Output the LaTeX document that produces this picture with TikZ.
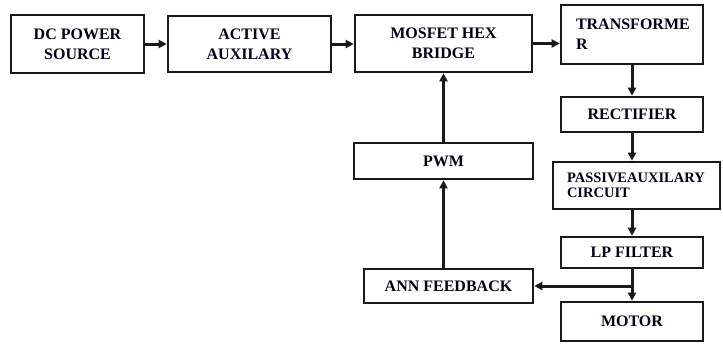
\documentclass[tikz,border=0pt]{standalone}
\usepackage{fontspec}
\setmainfont{Liberation Serif}
\usetikzlibrary{arrows.meta}
\begin{document}
\begin{tikzpicture}[x=1pt,y=-1pt,
  box/.style={draw=black!90, line width=2.6pt, rectangle, inner sep=0pt, align=center,
    font=\fontsize{16}{20}\selectfont\bfseries, text=black!90!blue},
  arr/.style={line width=3pt, draw=black!90, -{Triangle[length=8pt,width=8pt]}}]
\useasboundingbox (0,0) rectangle (723,343);
\node[box, minimum width=133pt, minimum height=58pt] (dc) at (77.5,44) {DC POWER\\ SOURCE};
\node[box, minimum width=163pt, minimum height=56pt] (act) at (249.5,44) {ACTIVE\\AUXILARY};
\node[box, minimum width=177pt, minimum height=57pt] (mos) at (443.5,43.5) {MOSFET HEX\\BRIDGE};
\node[box, minimum width=142pt, minimum height=59pt, text width=112pt, xshift=0pt, align=left] (tr) at (632,34.5) {TRANSFORME\\R};
\node[box, minimum width=142pt, minimum height=35pt] (rec) at (632,114.5) {RECTIFIER};
\node[box, minimum width=167pt, minimum height=47pt, text width=139pt, align=left,
  font=\fontsize{14.5}{15.5}\selectfont\bfseries] (pas) at (636.5,185.5) {PASSIVEAUXILARY\\CIRCUIT};
\node[box, minimum width=142pt, minimum height=31pt] (lp) at (632,252.5) {LP FILTER};
\node[box, minimum width=142pt, minimum height=39pt] (mot) at (632,321.5) {MOTOR};
\node[box, minimum width=179pt, minimum height=36pt] (pwm) at (443.5,161) {PWM};
\node[box, minimum width=169pt, minimum height=34pt] (ann) at (448.5,286) {ANN FEEDBACK};
\coordinate (j) at (lp.south |- ann.east);
\draw[arr] (dc.east) -- (act.west);
\draw[arr] (act.east) -- (act.east -| mos.west);
\draw[arr] (mos.east) -- (mos.east -| tr.west);
\draw[arr] (tr.south) -- (rec.north);
\draw[arr] (rec.south) -- (rec.south |- pas.north);
\draw[arr] (lp.north |- pas.south) -- (lp.north);
\draw[arr] (lp.south) -- (mot.north);
\draw[arr] (j) -- (ann.east);
\draw[arr] (ann.north -| pwm.south) -- (pwm.south);
\draw[arr] (pwm.north) -- (mos.south);
\end{tikzpicture}
\end{document}
